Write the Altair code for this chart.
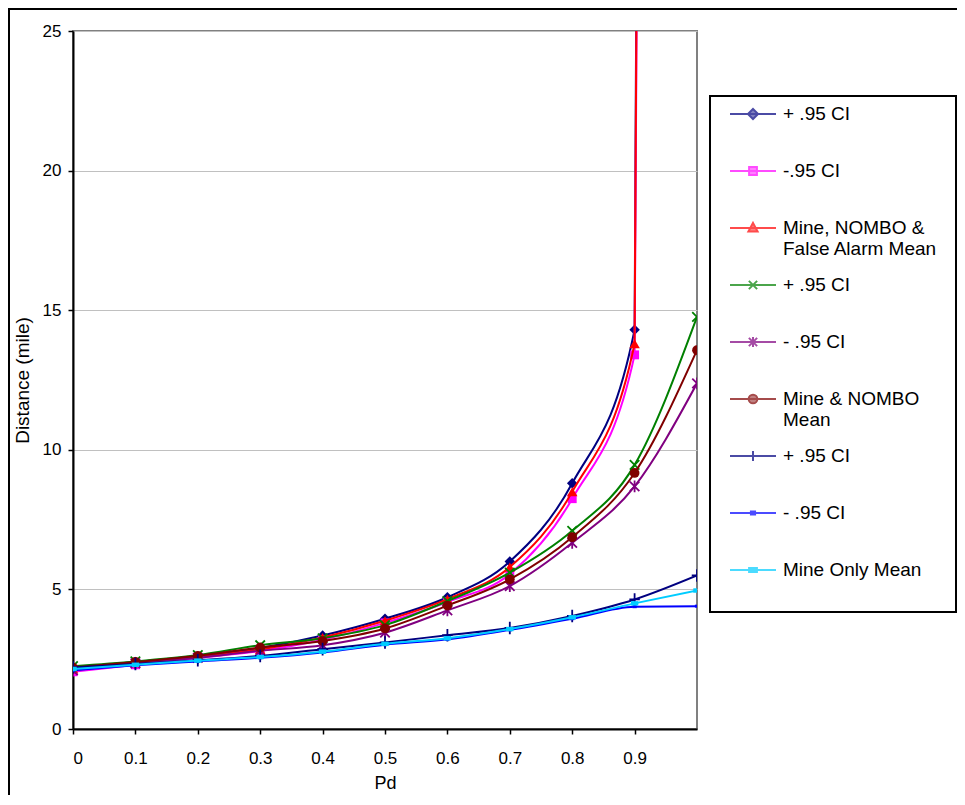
import altair as alt
import pandas as pd

# ---------------- data ----------------
pd_values = [0.0, 0.1, 0.2, 0.3, 0.4, 0.5, 0.6, 0.7, 0.8, 0.9, 1.0]

mnf_hi   = [2.20, 2.40, 2.60, 2.90, 3.35, 3.95, 4.72, 6.00, 8.80, 14.30, 450.0]
mnf_lo   = [2.05, 2.30, 2.55, 2.80, 3.20, 3.80, 4.55, 5.55, 8.25, 13.40, 380.0]
mnf_mean = [2.15, 2.37, 2.58, 2.85, 3.28, 3.88, 4.65, 5.80, 8.50, 13.80, 410.0]
mn_hi    = [2.25, 2.42, 2.65, 3.00, 3.25, 3.72, 4.58, 5.60, 7.10, 9.46, 14.76]
mn_lo    = [2.10, 2.35, 2.55, 2.80, 3.00, 3.45, 4.25, 5.12, 6.67, 8.69, 12.38]
mn_mean  = [2.20, 2.40, 2.62, 2.92, 3.15, 3.60, 4.42, 5.36, 6.87, 9.17, 13.57]
mo_hi    = [2.20, 2.33, 2.46, 2.62, 2.86, 3.10, 3.36, 3.62, 4.05, 4.64, 5.50]
mo_lo    = [2.10, 2.28, 2.42, 2.55, 2.74, 3.02, 3.21, 3.55, 3.95, 4.38, 4.40]
mo_mean  = [2.15, 2.30, 2.45, 2.58, 2.77, 3.05, 3.25, 3.58, 4.00, 4.50, 4.96]

series_ids = ["s1", "s2", "s3", "s4", "s5", "s6", "s7", "s8", "s9"]
series_values = [mnf_hi, mnf_lo, mnf_mean, mn_hi, mn_lo, mn_mean, mo_hi, mo_lo, mo_mean]
series_labels = [
    ["+ .95 CI"],
    ["-.95 CI"],
    ["Mine, NOMBO &", "False Alarm Mean"],
    ["+ .95 CI"],
    ["- .95 CI"],
    ["Mine & NOMBO", "Mean"],
    ["+ .95 CI"],
    ["- .95 CI"],
    ["Mine Only Mean"],
]
series_colors = ["#000080", "#FF00FF", "#FF0000", "#008000", "#800080",
                 "#800000", "#000080", "#0000FF", "#00CCFF"]

x_ticks = [0, 0.1, 0.2, 0.3, 0.4, 0.5, 0.6, 0.7, 0.8, 0.9]
y_ticks = [0, 5, 10, 15, 20, 25]

# ---------------- styles ----------------
FONT = "Liberation Sans"

# plot markers: (shape, filled, size)
X_PATH = "M-1,-1L1,1M-1,1L1,-1"
STAR_PATH = "M-1,-1L1,1M-1,1L1,-1M0,-1.25L0,1.25"
PLUS_PATH = "M-1,0L1,0M0,-1.2L0,1.2"
DASH_PATH = "M-1,-0.7L1,-0.7L1,0.7L-1,0.7Z"
BAR_PATH = "M-1,-0.6L1,-0.6L1,0.6L-1,0.6Z"
marker_styles = [
    ("diamond", True, 110),
    ("square", True, 80),
    ("triangle-up", True, 110),
    (X_PATH, False, 90),
    (STAR_PATH, False, 90),
    ("circle", True, 95),
    (PLUS_PATH, False, 110),
    (DASH_PATH, True, 18),
    (BAR_PATH, True, 55),
]


def legend_path(kind):
    line = "M-1,0L1,0"
    if kind == 0:
        # trailing move-to widens the legend box to the right (nothing drawn)
        m = "M0,-0.22L0.22,0L0,0.22L-0.22,0ZM8.9,0"
    elif kind == 1:
        m = "M-0.17,-0.17L0.17,-0.17L0.17,0.17L-0.17,0.17Z"
    elif kind == 2:
        m = "M0,-0.22L0.2,0.15L-0.2,0.15Z"
    elif kind == 3:
        m = "M-0.18,-0.18L0.18,0.18M-0.18,0.18L0.18,-0.18"
    elif kind == 4:
        m = "M-0.18,-0.18L0.18,0.18M-0.18,0.18L0.18,-0.18M0,-0.22L0,0.22"
    elif kind == 5:
        m = "M-0.19,0A0.19,0.19 0 1,0 0.19,0A0.19,0.19 0 1,0 -0.19,0Z"
    elif kind == 6:
        m = "M0,-0.22L0,0.22"
    elif kind == 7:
        m = "M-0.09,-0.06L0.09,-0.06L0.09,0.06L-0.09,0.06Z"
    else:
        m = "M-0.17,-0.09L0.17,-0.09L0.17,0.09L-0.17,0.09Z"
    return line + m


legend_paths = [legend_path(i) for i in range(9)]


def js_lines(lines):
    lines = list(lines) + [""] * (2 - len(lines))
    return "[" + ",".join("'" + s + "'" for s in lines) + "]"


label_expr = ""
for sid, lab in zip(series_ids, series_labels):
    label_expr += f"datum.value == '{sid}' ? {js_lines(lab)} : "
label_expr += "datum.label"

# ---------------- chart ----------------
x_enc = alt.X(
    "pd:Q",
    scale=alt.Scale(domain=[0, 1], nice=False),
    axis=alt.Axis(
        values=x_ticks, format=".1~f", title="Pd", grid=False,
        labelPadding=16, titlePadding=8, titleFontSize=18,
    ),
)
y_enc = alt.Y(
    "dist:Q",
    scale=alt.Scale(domain=[0, 25], nice=False),
    axis=alt.Axis(
        values=y_ticks, title="Distance (mile)", grid=True,
        labelPadding=7, titlePadding=10, titleFontSize=19,
    ),
)

layers = []

frame = alt.Chart(pd.DataFrame({"a": [0]})).mark_rect(
    fill="transparent", stroke="black", strokeWidth=2, clip=False
).encode(
    x=alt.value(-64), x2=alt.value(1000), y=alt.value(-22), y2=alt.value(900)
)
layers.append(frame)

for sid, vals, color, (shape, filled, size) in zip(series_ids, series_values, series_colors, marker_styles):
    df = pd.DataFrame({"pd": pd_values, "dist": vals})
    base = alt.Chart(df)
    line = base.mark_line(
        color=color, strokeWidth=2, interpolate="monotone", clip=True
    ).encode(x=x_enc, y=y_enc)
    pts = base.mark_point(
        shape=shape, filled=filled, size=size, color=color, opacity=1,
        strokeWidth=1.8, clip=True
    ).encode(x=x_enc, y=y_enc)
    layers += [line, pts]

leg = alt.Legend(
    orient="none", legendX=637, legendY=65, direction="vertical", columns=1,
    title=" ", titleOrient="bottom", titleFontSize=1, titlePadding=16,
    padding=-6, rowPadding=2,
    symbolSize=2116, symbolStrokeWidth=2, symbolOffset=25,
    labelOffset=6, labelFont=FONT, labelFontSize=19, labelColor="black",
    labelLimit=500, labelExpr=label_expr,
    strokeColor="black", fillColor="white",
)
color_scale = alt.Scale(domain=series_ids, range=series_colors)
legend_layer = alt.Chart(pd.DataFrame({"sid": series_ids})).mark_point(
    filled=True, clip=True, strokeWidth=2
).encode(
    x=alt.value(0),
    y=alt.value(-60),
    fill=alt.Fill("sid:N", scale=color_scale, legend=leg),
    stroke=alt.Stroke("sid:N", scale=color_scale, legend=leg),
    shape=alt.Shape("sid:N", scale=alt.Scale(domain=series_ids, range=legend_paths), legend=leg),
)
layers.append(legend_layer)

chart = alt.layer(*layers).properties(
    width=624, height=698,
    autosize=alt.AutoSizeParams(type="none"),
    padding={"left": 65, "top": 23, "right": 260, "bottom": 66},
    background="white",
).configure_view(
    stroke="#808080", strokeWidth=2
).configure_axis(
    labelFont=FONT, titleFont=FONT, labelFontSize=17, labelColor="black",
    titleColor="black", titleFontWeight="normal",
    domainColor="black", domainWidth=2, tickColor="black", tickWidth=1.5, tickSize=5,
    gridColor="#c0c0c0", gridWidth=1,
).configure_legend(
    strokeWidth=2
)

chart.save("out.html", embed_options={"renderer": "svg", "actions": False})
